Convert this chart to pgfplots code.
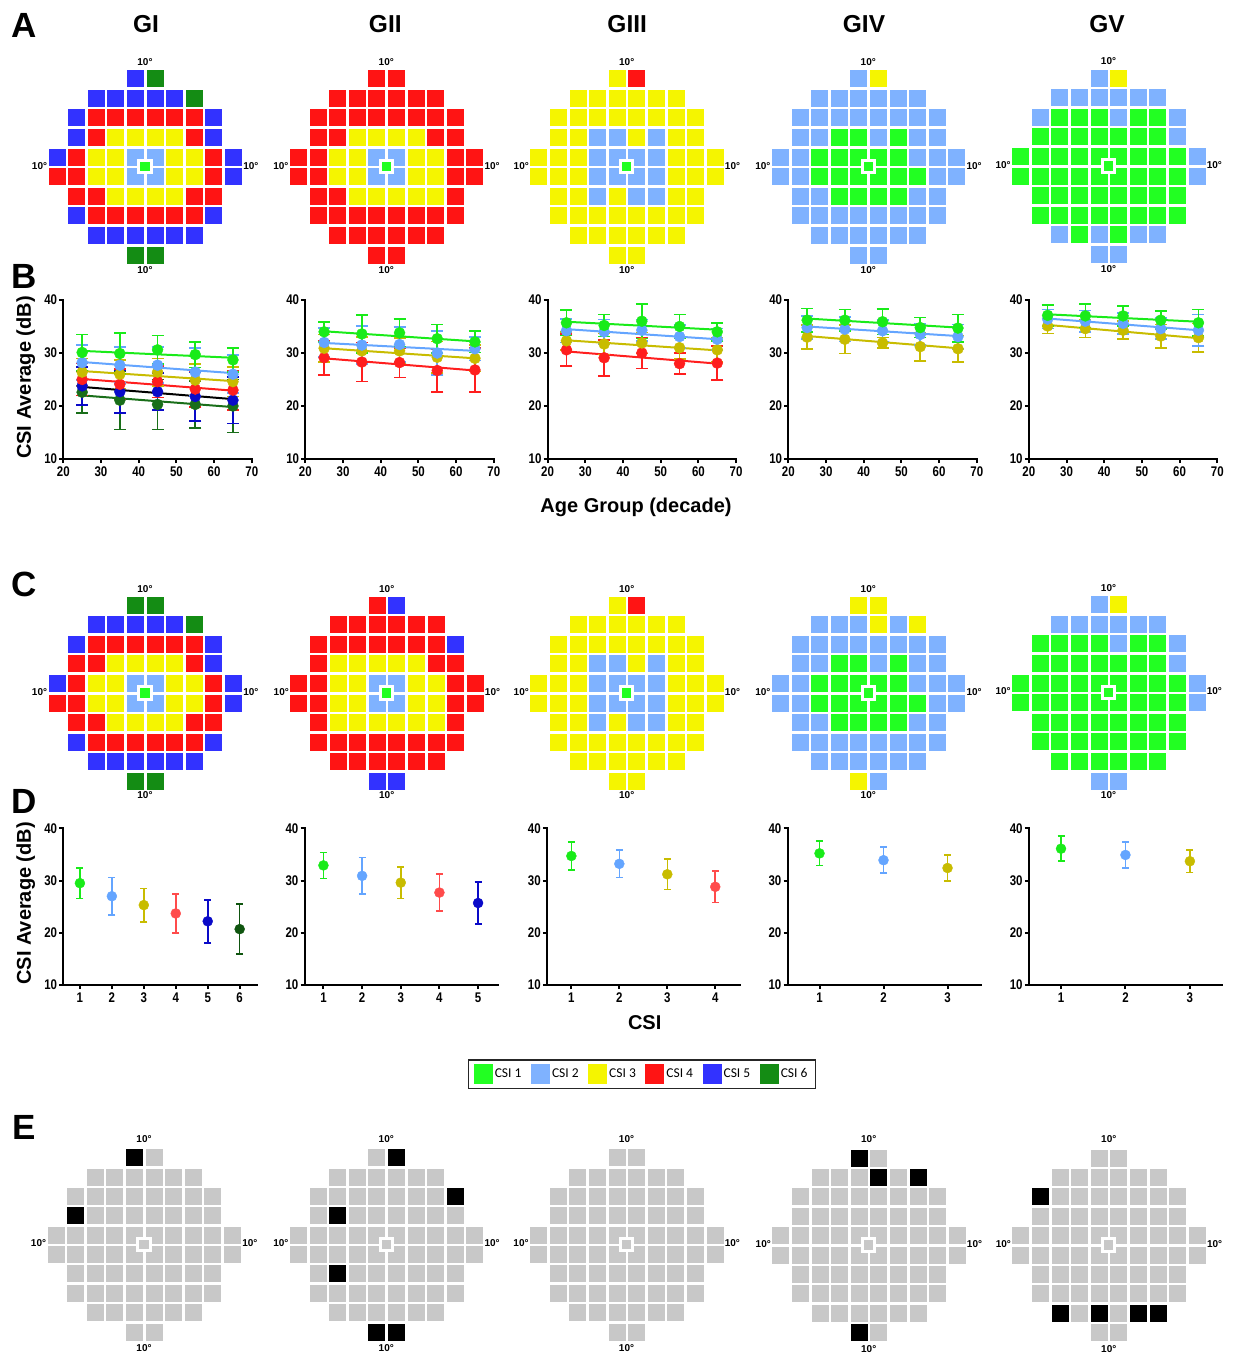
\documentclass[border=0pt]{standalone}
\usepackage{fontspec}
\setmainfont{Liberation Sans}
\newfontfamily\ticksf[FakeStretch=0.82]{Liberation Sans}
\newfontfamily\legfont{Carlito}
\usepackage{pgfplots}
\usepackage{pgfplotstable}
\pgfplotsset{compat=1.18}

\definecolor{m1}{RGB}{34,255,34}
\definecolor{m2}{RGB}{127,178,255}
\definecolor{m3}{RGB}{245,245,0}
\definecolor{m4}{RGB}{255,20,20}
\definecolor{m5}{RGB}{50,50,255}
\definecolor{m6}{RGB}{20,140,20}
\definecolor{mg}{RGB}{200,200,200}
\definecolor{mk}{RGB}{0,0,0}
\definecolor{p1}{RGB}{25,235,25}
\definecolor{p2}{RGB}{100,165,255}
\definecolor{p3}{RGB}{200,188,0}
\definecolor{p4}{RGB}{255,30,30}
\definecolor{p4d}{RGB}{255,75,75}
\definecolor{p5}{RGB}{10,10,200}
\definecolor{p6}{RGB}{25,110,25}
\definecolor{p6d}{RGB}{15,85,15}

\newcommand{\tickfont}{\ticksf\bfseries\fontsize{14}{16}\selectfont}
\newcommand{\titlefont}{\bfseries\fontsize{20}{24}\selectfont}
\tikzset{degl/.style={font=\bfseries\fontsize{10}{12}\selectfont, inner sep=0pt}}

\pgfplotsset{
  mapaxis/.style={scale only axis, hide axis, width=196pt, xmin=0.5, xmax=10.5, ymin=0.5, ymax=10.5, anchor=center, clip=false,
    scatter/classes={0={opacity=0}, 1={draw=m1,fill=m1}, 2={draw=m2,fill=m2}, 3={draw=m3,fill=m3}, 4={draw=m4,fill=m4}, 5={draw=m5,fill=m5}, 6={draw=m6,fill=m6}, 7={draw=mg,fill=mg}, 8={draw=mk,fill=mk}}},
  cell/.style={scatter, only marks, scatter src=explicit symbolic, mark=square*, mark size=8pt, line width=0.3pt},
  plotaxis/.style={scale only axis, anchor=south west, axis lines*=left,
    axis line style={line width=2pt, line cap=rect}, tick style={line width=2pt, black},
    major tick length=4pt, tick align=outside, ymin=10, ymax=40, ytick={10,20,30,40},
    ticklabel style={font=\tickfont}, yticklabel style={inner xsep=2pt},
    /pgf/number format/assume math mode=true, clip=false},
  baxis/.style={plotaxis, width=188.5pt, height=159pt, xmin=20, xmax=70, xtick={20,30,40,50,60,70}},
  daxis/.style={plotaxis, width=193.3pt, height=156.7pt},
  bline/.style={no marks, line width=2pt},
  bpt/.style={only marks, mark=*, mark size=5.5pt, mark options={solid},
    error bars/y dir=both, error bars/y explicit,
    error bars/error bar style={line width=1.6pt},
    error bars/error mark options={rotate=90, mark size=6pt, line width=1.6pt}},
  dpt/.style={only marks, mark=*, mark size=5pt, mark options={solid},
    error bars/y dir=both, error bars/y explicit,
    error bars/error bar style={line width=1.6pt},
    error bars/error mark options={rotate=90, mark size=3.5pt, line width=1.6pt}},
}

\newcommand{\mapplot}[7]{%
\begin{axis}[mapaxis, height=#4pt, at={(#2pt,-#3pt)}]
\pgfplotsinvokeforeach{1,...,10}{\addplot[cell] table[x expr=##1, y=r, meta=c##1]{#1};}
\addplot[only marks, mark=square*, mark size=6.15pt, mark options={fill=#5, draw=white, line width=3pt}] coordinates {(5.5,5.5)};
\node[degl] at (axis cs:5.5,#6) {10°};
\node[degl] at (axis cs:5.5,#7) {10°};
\node[degl] at (axis cs:0.12,5.55) {10°};
\node[degl] at (axis cs:10.9,5.55) {10°};
\end{axis}}

% ---------- map tables (row r: 10 = top; c1..c10 left to right; 0 = no cell)
\pgfplotstableread{
r c1 c2 c3 c4 c5 c6 c7 c8 c9 c10
10 0 0 0 0 5 6 0 0 0 0
9 0 0 5 5 5 5 5 6 0 0
8 0 5 4 4 4 4 4 4 5 0
7 0 5 4 3 3 3 3 4 5 0
6 5 4 3 3 2 2 3 3 4 5
5 4 4 3 3 2 2 3 3 4 5
4 0 4 4 3 3 3 3 4 4 0
3 0 5 4 4 4 4 4 4 5 0
2 0 0 5 5 5 5 5 5 0 0
1 0 0 0 0 6 6 0 0 0 0
}\tAa
\pgfplotstableread{
r c1 c2 c3 c4 c5 c6 c7 c8 c9 c10
10 0 0 0 0 4 4 0 0 0 0
9 0 0 4 4 4 4 4 4 0 0
8 0 4 4 4 4 4 4 4 4 0
7 0 4 4 3 3 3 3 4 4 0
6 4 4 3 3 2 2 3 3 4 4
5 4 4 3 3 2 2 3 3 4 4
4 0 4 4 3 3 3 3 3 4 0
3 0 4 4 4 4 4 4 4 4 0
2 0 0 4 4 4 4 4 4 0 0
1 0 0 0 0 4 4 0 0 0 0
}\tAb
\pgfplotstableread{
r c1 c2 c3 c4 c5 c6 c7 c8 c9 c10
10 0 0 0 0 3 4 0 0 0 0
9 0 0 3 3 3 3 3 3 0 0
8 0 3 3 3 3 3 3 3 3 0
7 0 3 3 2 2 3 2 3 3 0
6 3 3 3 2 2 2 2 3 3 3
5 3 3 3 2 2 2 2 3 3 3
4 0 3 3 2 3 2 2 3 3 0
3 0 3 3 3 3 3 3 3 3 0
2 0 0 3 3 3 3 3 3 0 0
1 0 0 0 0 3 3 0 0 0 0
}\tAc
\pgfplotstableread{
r c1 c2 c3 c4 c5 c6 c7 c8 c9 c10
10 0 0 0 0 2 3 0 0 0 0
9 0 0 2 2 2 2 2 2 0 0
8 0 2 2 2 2 2 2 2 2 0
7 0 2 2 1 1 2 1 2 2 0
6 2 2 1 1 1 1 1 2 2 2
5 2 2 1 1 1 1 1 1 2 2
4 0 2 2 1 1 1 1 2 2 0
3 0 2 2 2 2 2 2 2 2 0
2 0 0 2 2 2 2 2 2 0 0
1 0 0 0 0 2 2 0 0 0 0
}\tAd
\pgfplotstableread{
r c1 c2 c3 c4 c5 c6 c7 c8 c9 c10
10 0 0 0 0 2 3 0 0 0 0
9 0 0 2 2 2 2 2 2 0 0
8 0 2 1 1 1 2 1 1 2 0
7 0 1 1 1 1 1 1 1 2 0
6 1 1 1 1 1 1 1 1 1 2
5 1 1 1 1 1 1 1 1 1 2
4 0 1 1 1 1 1 1 1 1 0
3 0 1 1 1 1 1 1 1 1 0
2 0 0 2 1 2 1 2 2 0 0
1 0 0 0 0 2 2 0 0 0 0
}\tAe
\pgfplotstableread{
r c1 c2 c3 c4 c5 c6 c7 c8 c9 c10
10 0 0 0 0 6 6 0 0 0 0
9 0 0 5 5 5 5 5 6 0 0
8 0 5 4 4 4 4 4 4 5 0
7 0 4 4 3 3 3 3 4 5 0
6 5 4 3 3 2 2 3 3 4 5
5 4 4 3 3 2 2 3 3 4 5
4 0 4 4 3 3 3 3 4 4 0
3 0 5 4 4 4 4 4 4 5 0
2 0 0 5 5 5 5 5 5 0 0
1 0 0 0 0 6 6 0 0 0 0
}\tCa
\pgfplotstableread{
r c1 c2 c3 c4 c5 c6 c7 c8 c9 c10
10 0 0 0 0 4 5 0 0 0 0
9 0 0 4 4 4 4 4 4 0 0
8 0 4 4 4 4 4 4 4 5 0
7 0 4 3 3 3 3 3 4 4 0
6 4 4 3 3 2 2 3 3 4 4
5 4 4 3 3 2 2 3 3 4 4
4 0 4 3 3 3 3 3 3 4 0
3 0 4 4 4 4 4 4 4 4 0
2 0 0 4 4 4 4 4 4 0 0
1 0 0 0 0 5 5 0 0 0 0
}\tCb
\pgfplotstableread{
r c1 c2 c3 c4 c5 c6 c7 c8 c9 c10
10 0 0 0 0 3 4 0 0 0 0
9 0 0 3 3 3 3 3 3 0 0
8 0 3 3 3 3 3 3 3 3 0
7 0 3 3 2 2 3 2 3 3 0
6 3 3 3 2 2 2 2 3 3 3
5 3 3 3 2 2 2 2 3 3 3
4 0 3 3 2 3 2 2 3 3 0
3 0 3 3 3 3 3 3 3 3 0
2 0 0 3 3 3 3 3 3 0 0
1 0 0 0 0 3 3 0 0 0 0
}\tCc
\pgfplotstableread{
r c1 c2 c3 c4 c5 c6 c7 c8 c9 c10
10 0 0 0 0 3 3 0 0 0 0
9 0 0 2 2 2 3 2 3 0 0
8 0 2 2 2 2 2 2 2 2 0
7 0 2 2 1 1 2 1 2 2 0
6 2 2 1 1 1 1 1 2 2 2
5 2 2 1 1 1 1 1 1 2 2
4 0 2 2 1 1 1 1 2 2 0
3 0 2 2 2 2 2 2 2 2 0
2 0 0 2 2 2 2 2 2 0 0
1 0 0 0 0 3 2 0 0 0 0
}\tCd
\pgfplotstableread{
r c1 c2 c3 c4 c5 c6 c7 c8 c9 c10
10 0 0 0 0 2 3 0 0 0 0
9 0 0 2 2 2 2 2 2 0 0
8 0 1 1 1 1 2 1 1 2 0
7 0 1 1 1 1 1 1 1 2 0
6 1 1 1 1 1 1 1 1 1 2
5 1 1 1 1 1 1 1 1 1 2
4 0 1 1 1 1 1 1 1 1 0
3 0 1 1 1 1 1 1 1 1 0
2 0 0 1 1 1 1 1 1 0 0
1 0 0 0 0 2 2 0 0 0 0
}\tCe
\pgfplotstableread{
r c1 c2 c3 c4 c5 c6 c7 c8 c9 c10
10 0 0 0 0 8 7 0 0 0 0
9 0 0 7 7 7 7 7 7 0 0
8 0 7 7 7 7 7 7 7 7 0
7 0 8 7 7 7 7 7 7 7 0
6 7 7 7 7 7 7 7 7 7 7
5 7 7 7 7 7 7 7 7 7 7
4 0 7 7 7 7 7 7 7 7 0
3 0 7 7 7 7 7 7 7 7 0
2 0 0 7 7 7 7 7 7 0 0
1 0 0 0 0 7 7 0 0 0 0
}\tEa
\pgfplotstableread{
r c1 c2 c3 c4 c5 c6 c7 c8 c9 c10
10 0 0 0 0 7 8 0 0 0 0
9 0 0 7 7 7 7 7 7 0 0
8 0 7 7 7 7 7 7 7 8 0
7 0 7 8 7 7 7 7 7 7 0
6 7 7 7 7 7 7 7 7 7 7
5 7 7 7 7 7 7 7 7 7 7
4 0 7 8 7 7 7 7 7 7 0
3 0 7 7 7 7 7 7 7 7 0
2 0 0 7 7 7 7 7 7 0 0
1 0 0 0 0 8 8 0 0 0 0
}\tEb
\pgfplotstableread{
r c1 c2 c3 c4 c5 c6 c7 c8 c9 c10
10 0 0 0 0 7 7 0 0 0 0
9 0 0 7 7 7 7 7 7 0 0
8 0 7 7 7 7 7 7 7 7 0
7 0 7 7 7 7 7 7 7 7 0
6 7 7 7 7 7 7 7 7 7 7
5 7 7 7 7 7 7 7 7 7 7
4 0 7 7 7 7 7 7 7 7 0
3 0 7 7 7 7 7 7 7 7 0
2 0 0 7 7 7 7 7 7 0 0
1 0 0 0 0 7 7 0 0 0 0
}\tEc
\pgfplotstableread{
r c1 c2 c3 c4 c5 c6 c7 c8 c9 c10
10 0 0 0 0 8 7 0 0 0 0
9 0 0 7 7 7 8 7 8 0 0
8 0 7 7 7 7 7 7 7 7 0
7 0 7 7 7 7 7 7 7 7 0
6 7 7 7 7 7 7 7 7 7 7
5 7 7 7 7 7 7 7 7 7 7
4 0 7 7 7 7 7 7 7 7 0
3 0 7 7 7 7 7 7 7 7 0
2 0 0 7 7 7 7 7 7 0 0
1 0 0 0 0 8 7 0 0 0 0
}\tEd
\pgfplotstableread{
r c1 c2 c3 c4 c5 c6 c7 c8 c9 c10
10 0 0 0 0 7 7 0 0 0 0
9 0 0 7 7 7 7 7 7 0 0
8 0 8 7 7 7 7 7 7 7 0
7 0 7 7 7 7 7 7 7 7 0
6 7 7 7 7 7 7 7 7 7 7
5 7 7 7 7 7 7 7 7 7 7
4 0 7 7 7 7 7 7 7 7 0
3 0 7 7 7 7 7 7 7 7 0
2 0 0 8 7 8 7 8 8 0 0
1 0 0 0 0 7 7 0 0 0 0
}\tEe

\begin{document}
\begin{tikzpicture}
\path[use as bounding box] (0,0) rectangle (1238pt,-1353pt);

% panel letters and headers
\foreach \l/\y in {A/25.8,B/276,C/584,D/801.5,E/1127.7}
  \node[font=\bfseries\fontsize{35}{40}\selectfont, inner sep=0pt] at (24.3pt,-\y pt) {\l};
\foreach \t/\x in {GI/146,GII/385.3,GIII/627.2,GIV/864,GV/1107}
  \node[font=\bfseries\fontsize{24.5}{28}\selectfont, inner sep=0pt] at (\x pt,-24.5pt) {\t};

% ---------- row A maps
\mapplot{\tAa}{145}{166.6}{196}{m1}{10.85}{0.23}
\mapplot{\tAb}{386.3}{166.6}{196}{m1}{10.85}{0.23}
\mapplot{\tAc}{626.7}{166.6}{196}{m1}{10.85}{0.23}
\mapplot{\tAd}{868.3}{166.6}{196}{m1}{10.85}{0.23}
\mapplot{\tAe}{1108.5}{166}{196}{m1}{10.85}{0.23}
% ---------- row C maps
\mapplot{\tCa}{145}{693}{196}{m1}{10.82}{0.27}
\mapplot{\tCb}{386.7}{693}{196}{m1}{10.82}{0.27}
\mapplot{\tCc}{626.7}{693}{196}{m1}{10.82}{0.27}
\mapplot{\tCd}{868.3}{693}{196}{m1}{10.82}{0.27}
\mapplot{\tCe}{1108.5}{692.5}{196}{m1}{10.82}{0.27}
% ---------- row E maps
\mapplot{\tEa}{144}{1244.5}{193.8}{mg}{10.96}{0.14}
\mapplot{\tEb}{386.3}{1244.5}{193.8}{mg}{10.96}{0.14}
\mapplot{\tEc}{626.5}{1244.5}{193.8}{mg}{10.96}{0.14}
\mapplot{\tEd}{868.7}{1245}{193.8}{mg}{10.96}{0.14}
\mapplot{\tEe}{1108.8}{1245}{193.8}{mg}{10.96}{0.14}

% ---------- row B: CSI average vs age
\begin{axis}[baxis, at={(63.3pt,-459pt)}]
\addplot[p6, bline] coordinates {(25,22.0) (65,19.8)};
\addplot[p6, bpt] coordinates {(25,22.6) +- (0,3.9) (35,21.1) +- (0,5.5) (45,20.3) +- (0,4.7) (55,20.3) +- (0,4.4) (65,20.0) +- (0,5.0)};
\addplot[black, bline] coordinates {(25,23.6) (65,21.3)};
\addplot[p5, bpt] coordinates {(25,23.8) +- (0,3.6) (35,22.7) +- (0,4.0) (45,22.7) +- (0,3.5) (55,21.8) +- (0,4.6) (65,21.1) +- (0,4.4)};
\addplot[p4, bline] coordinates {(25,25.1) (65,22.9)};
\addplot[p4, bpt] coordinates {(25,25.0) +- (0,3.0) (35,24.1) +- (0,2.9) (45,24.6) +- (0,3.0) (55,23.2) +- (0,3.4) (65,23.0) +- (0,3.7)};
\addplot[p3, bline] coordinates {(25,26.6) (65,24.7)};
\addplot[p3, bpt] coordinates {(25,26.4) +- (0,2.6) (35,26.0) +- (0,2.7) (45,26.4) +- (0,2.6) (55,24.9) +- (0,3.0) (65,24.6) +- (0,2.8)};
\addplot[p2, bline] coordinates {(25,28.3) (65,26.2)};
\addplot[p2, bpt] coordinates {(25,28.2) +- (0,3.3) (35,27.7) +- (0,3.4) (45,27.7) +- (0,3.4) (55,26.4) +- (0,4.5) (65,26.0) +- (0,3.6)};
\addplot[p1, bline] coordinates {(25,30.4) (65,29.1)};
\addplot[p1, bpt] coordinates {(25,30.1) +- (0,3.4) (35,29.9) +- (0,3.9) (45,30.6) +- (0,2.7) (55,29.7) +- (0,2.4) (65,28.7) +- (0,2.3)};
\end{axis}

\begin{axis}[baxis, at={(305.3pt,-459pt)}]
\addplot[p4, bline] coordinates {(25,29.0) (65,26.7)};
\addplot[p4, bpt] coordinates {(25,29.1) +- (0,3.2) (35,28.3) +- (0,3.7) (45,28.2) +- (0,2.8) (55,26.7) +- (0,4.1) (65,26.8) +- (0,4.2)};
\addplot[p3, bline] coordinates {(25,30.9) (65,29.0)};
\addplot[p3, bpt] coordinates {(25,30.9) +- (0,2.6) (35,30.4) +- (0,2.6) (45,30.4) +- (0,2.4) (55,29.2) +- (0,3.0) (65,29.0) +- (0,2.5)};
\addplot[p2, bline] coordinates {(25,31.9) (65,30.4)};
\addplot[p2, bpt] coordinates {(25,32.0) +- (0,2.7) (35,31.5) +- (0,3.6) (45,31.6) +- (0,3.3) (55,30.0) +- (0,4.2) (65,30.8) +- (0,2.2)};
\addplot[p1, bline] coordinates {(25,34.1) (65,32.2)};
\addplot[p1, bpt] coordinates {(25,34.0) +- (0,1.9) (35,33.6) +- (0,3.6) (45,33.8) +- (0,2.6) (55,32.7) +- (0,2.7) (65,32.1) +- (0,2.0)};
\end{axis}

\begin{axis}[baxis, at={(547.6pt,-459pt)}]
\addplot[p4, bline] coordinates {(25,30.3) (65,28.0)};
\addplot[p4, bpt] coordinates {(25,30.6) +- (0,3.0) (35,29.1) +- (0,3.4) (45,30.0) +- (0,2.9) (55,28.0) +- (0,2.0) (65,28.1) +- (0,3.2)};
\addplot[p3, bline] coordinates {(25,32.4) (65,30.5)};
\addplot[p3, bpt] coordinates {(25,32.3) +- (0,1.7) (35,31.7) +- (0,2.0) (45,31.9) +- (0,2.0) (55,31.0) +- (0,2.1) (65,30.6) +- (0,2.3)};
\addplot[p2, bline] coordinates {(25,34.5) (65,32.6)};
\addplot[p2, bpt] coordinates {(25,34.2) +- (0,2.2) (35,34.0) +- (0,2.3) (45,34.3) +- (0,2.0) (55,33.1) +- (0,2.2) (65,32.6) +- (0,2.0)};
\addplot[p1, bline] coordinates {(25,35.9) (65,34.4)};
\addplot[p1, bpt] coordinates {(25,35.7) +- (0,2.4) (35,35.2) +- (0,2.1) (45,36.0) +- (0,3.3) (55,35.0) +- (0,2.3) (65,34.0) +- (0,1.7)};
\end{axis}

\begin{axis}[baxis, at={(788.3pt,-459pt)}]
\addplot[p3, bline] coordinates {(25,33.2) (65,30.9)};
\addplot[p3, bpt] coordinates {(25,33.0) +- (0,2.3) (35,32.6) +- (0,2.7) (45,31.9) +- (0,1.0) (55,31.2) +- (0,2.7) (65,30.8) +- (0,2.5)};
\addplot[p2, bline] coordinates {(25,35.0) (65,33.2)};
\addplot[p2, bpt] coordinates {(25,34.8) +- (0,2.2) (35,34.5) +- (0,2.3) (45,34.2) +- (0,2.0) (55,33.5) +- (0,2.0) (65,33.1) +- (0,2.3)};
\addplot[p1, bline] coordinates {(25,36.5) (65,34.8)};
\addplot[p1, bpt] coordinates {(25,36.2) +- (0,2.2) (35,36.2) +- (0,2.0) (45,35.9) +- (0,2.4) (55,34.8) +- (0,1.9) (65,34.7) +- (0,2.6)};
\end{axis}

\begin{axis}[baxis, at={(1028.8pt,-459pt)}]
\addplot[p3, bline] coordinates {(25,35.3) (65,32.8)};
\addplot[p3, bpt] coordinates {(25,35.1) +- (0,1.4) (35,34.6) +- (0,1.7) (45,34.3) +- (0,1.7) (55,33.2) +- (0,2.2) (65,32.9) +- (0,2.7)};
\addplot[p2, bline] coordinates {(25,36.5) (65,34.3)};
\addplot[p2, bpt] coordinates {(25,36.4) +- (0,1.8) (35,36.0) +- (0,2.0) (45,35.6) +- (0,2.0) (55,34.6) +- (0,2.0) (65,34.3) +- (0,3.0)};
\addplot[p1, bline] coordinates {(25,37.3) (65,35.9)};
\addplot[p1, bpt] coordinates {(25,37.1) +- (0,2.0) (35,37.0) +- (0,2.2) (45,37.0) +- (0,1.9) (55,36.2) +- (0,1.7) (65,35.7) +- (0,2.5)};
\end{axis}

% ---------- row D: CSI average vs CSI
\begin{axis}[daxis, at={(63.3pt,-985pt)}, xmin=0.48, xmax=6.53, xtick={1,2,3,4,5,6}]
\addplot[p1, dpt] coordinates {(1,29.5) +- (0,2.9)};
\addplot[p2, dpt] coordinates {(2,27.0) +- (0,3.6)};
\addplot[p3, dpt] coordinates {(3,25.3) +- (0,3.2)};
\addplot[p4d, dpt] coordinates {(4,23.7) +- (0,3.7)};
\addplot[p5, dpt] coordinates {(5,22.2) +- (0,4.1)};
\addplot[p6d, dpt] coordinates {(6,20.7) +- (0,4.8)};
\end{axis}
\begin{axis}[daxis, at={(304.5pt,-985pt)}, xmin=0.51, xmax=5.51, xtick={1,2,3,4,5}]
\addplot[p1, dpt] coordinates {(1,32.9) +- (0,2.5)};
\addplot[p2, dpt] coordinates {(2,30.9) +- (0,3.5)};
\addplot[p3, dpt] coordinates {(3,29.6) +- (0,3.0)};
\addplot[p4d, dpt] coordinates {(4,27.7) +- (0,3.5)};
\addplot[p5, dpt] coordinates {(5,25.7) +- (0,4.0)};
\end{axis}
\begin{axis}[daxis, at={(546.9pt,-985pt)}, xmin=0.49, xmax=4.52, xtick={1,2,3,4}]
\addplot[p1, dpt] coordinates {(1,34.7) +- (0,2.65)};
\addplot[p2, dpt] coordinates {(2,33.2) +- (0,2.6)};
\addplot[p3, dpt] coordinates {(3,31.2) +- (0,2.9)};
\addplot[p4d, dpt] coordinates {(4,28.8) +- (0,3.0)};
\end{axis}
\begin{axis}[daxis, at={(787.5pt,-985pt)}, xmin=0.5, xmax=3.52, xtick={1,2,3}]
\addplot[p1, dpt] coordinates {(1,35.2) +- (0,2.35)};
\addplot[p2, dpt] coordinates {(2,33.9) +- (0,2.5)};
\addplot[p3, dpt] coordinates {(3,32.4) +- (0,2.5)};
\end{axis}
\begin{axis}[daxis, at={(1028.8pt,-985pt)}, xmin=0.5, xmax=3.5, xtick={1,2,3}]
\addplot[p1, dpt] coordinates {(1,36.1) +- (0,2.4)};
\addplot[p2, dpt] coordinates {(2,34.9) +- (0,2.5)};
\addplot[p3, dpt] coordinates {(3,33.7) +- (0,2.15)};
\end{axis}

% ---------- axis titles
\node[font=\titlefont, rotate=90] at (25.7pt,-377.5pt) {CSI Average (dB)};
\node[font=\titlefont, rotate=90] at (25.7pt,-903.3pt) {CSI Average (dB)};
\node[font=\titlefont, anchor=base] at (636pt,-512.5pt) {Age Group (decade)};
\node[font=\titlefont, anchor=base] at (644.7pt,-1029.3pt) {CSI};

% ---------- legend
\begin{axis}[hide axis, scale only axis, width=346pt, height=30pt, at={(467.7pt,-1059.3pt)}, anchor=north west,
  xmin=0, xmax=1, ymin=0, ymax=1, legend columns=6, legend cell align=left,
  legend style={at={(0,1)}, anchor=north west, draw=black!85, line width=1.2pt,
    inner xsep=5.5pt, inner ysep=4.5pt, font=\legfont\fontsize{13.5}{15}\selectfont,
    nodes={inner xsep=2.5pt, inner ysep=0pt},
    /tikz/every even column/.append style={column sep=7pt}},
  legend image code/.code={\path[#1, line width=0.5pt] (0pt,-9.5pt) rectangle (18pt,9.5pt);}]
\addlegendimage{fill=m1, draw=m1}\addlegendentry{CSI 1}
\addlegendimage{fill=m2, draw=m2}\addlegendentry{CSI 2}
\addlegendimage{fill=m3, draw=m3}\addlegendentry{CSI 3}
\addlegendimage{fill=m4, draw=m4}\addlegendentry{CSI 4}
\addlegendimage{fill=m5, draw=m5}\addlegendentry{CSI 5}
\addlegendimage{fill=m6, draw=m6}\addlegendentry{CSI 6}
\end{axis}
\end{tikzpicture}
\end{document}
